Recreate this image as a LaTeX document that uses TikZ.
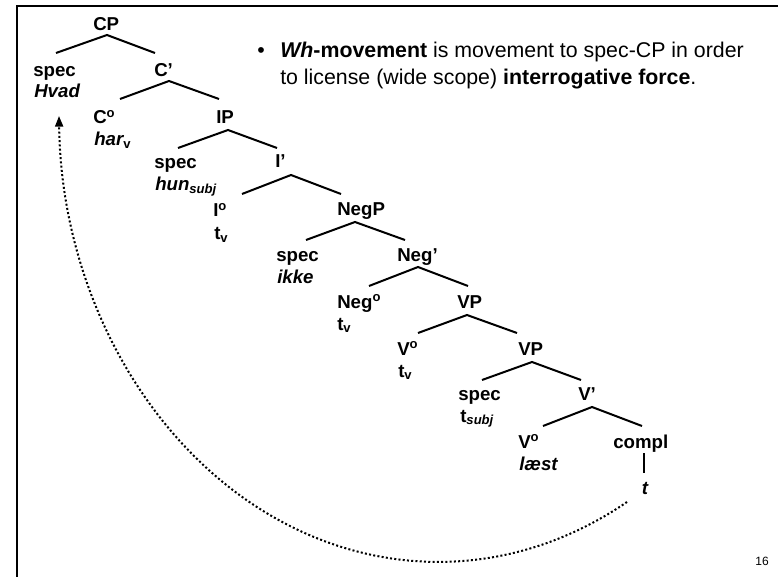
\documentclass[tikz,border=0pt]{standalone}
\usepackage{fontspec}
\setmainfont{Liberation Sans}
\usetikzlibrary{calc,arrows.meta}
\begin{document}
\begin{tikzpicture}[x=0.75pt,y=-0.75pt,
  lab/.style={anchor=base west,inner sep=0pt,font=\fontsize{14}{17}\selectfont\bfseries},
  branch/.style={line width=1.5pt},
  txt/.style={anchor=base west,inner sep=0pt,font=\fontsize{16}{20}\selectfont},
  move/.style={line width=1.5pt,dash pattern=on 1.5pt off 1.7pt,-{Triangle[length=8pt,width=6pt]}}]
\useasboundingbox (0,0) rectangle (778,577);
% frame
\draw[line width=1.5pt] (778,6) -- (17,6) -- (17,577);
% bullet text
\node[txt] (bul) at (257,58) {•};
\node[txt] (lineA) at (280,58) {\textbf{\textit{Wh}-movement} is movement to spec-CP in order};
\node[txt] (lineB) at (280,85) {to license (wide scope) \textbf{interrogative force}.};
% tree labels
\node[lab] (CP) at (93,31) {CP};
\node[lab] (specA) at (33,77) {spec};
\node[lab] (Hvad) at (34,98) {\itshape Hvad};
\node[lab] (Cbar) at (154,77) {C’};
\node[lab] (Chead) at (93,124) {C\textsuperscript{o}};
\node[lab] (har) at (94,146) {\itshape har\textsubscript{\upshape v}};
\node[lab] (IP) at (216,124) {IP};
\node[lab] (specB) at (154,169) {spec};
\node[lab] (hun) at (155,191) {\itshape hun\textsubscript{subj}};
\node[lab] (Ibar) at (275,168) {I’};
\node[lab] (Ihead) at (213,217) {I\textsuperscript{o}};
\node[lab] (tvA) at (214,240) {t\textsubscript{v}};
\node[lab] (NegP) at (337,216) {NegP};
\node[lab] (specC) at (276,262) {spec};
\node[lab] (ikke) at (277,284) {\itshape ikke};
\node[lab] (Negbar) at (397,262) {Neg’};
\node[lab] (Neghead) at (337,308) {Neg\textsuperscript{o}};
\node[lab] (tvB) at (337,330) {t\textsubscript{v}};
\node[lab] (VPa) at (457,308) {VP};
\node[lab] (VheadA) at (397,355) {V\textsuperscript{o}};
\node[lab] (tvC) at (398,377) {t\textsubscript{v}};
\node[lab] (VPb) at (518,355) {VP};
\node[lab] (specD) at (458,400) {spec};
\node[lab] (tsubj) at (460,422) {t\textsubscript{\itshape subj}};
\node[lab] (Vbar) at (578,400) {V’};
\node[lab] (VheadB) at (518,448) {V\textsuperscript{o}};
\node[lab] (laest) at (519,470) {\itshape læst};
\node[lab] (compl) at (613,448) {compl};
\node[lab,anchor=base] (trace) at (645,494) {\itshape t};
\node[anchor=center,inner sep=0pt,font=\fontsize{9}{10}\selectfont] (pagenum) at (762,561) {16};
% branches
\draw[branch] ($(specA.base west)+(23,-24)$) -- ($(CP.base west)+(14,4)$) -- ($(Cbar.base west)+(1,-24)$);
\draw[branch] ($(Chead.base west)+(27,-25)$) -- ($(Cbar.base west)+(15,4)$) -- ($(IP.base west)+(3,-25)$);
\draw[branch] ($(specB.base west)+(24,-21)$) -- ($(IP.base west)+(12,6)$) -- ($(Ibar.base west)+(2,-20)$);
\draw[branch] ($(Ihead.base west)+(29,-23)$) -- ($(Ibar.base west)+(16,7)$) -- ($(NegP.base west)+(4,-22)$);
\draw[branch] ($(specC.base west)+(30,-22)$) -- ($(NegP.base west)+(18,6)$) -- ($(Negbar.base west)+(8,-22)$);
\draw[branch] ($(Neghead.base west)+(32,-22)$) -- ($(Negbar.base west)+(21,5)$) -- ($(VPa.base west)+(11,-22)$);
\draw[branch] ($(VheadA.base west)+(21,-22)$) -- ($(VPa.base west)+(10,7)$) -- ($(VPb.base west)+(-1,-22)$);
\draw[branch] ($(specD.base west)+(24,-20)$) -- ($(VPb.base west)+(14,7)$) -- ($(Vbar.base west)+(3,-20)$);
\draw[branch] ($(VheadB.base west)+(25,-22)$) -- ($(Vbar.base west)+(14,7)$) -- ($(compl.base west)+(29,-22)$);
\draw[branch] ($(compl.base west)+(31,5)$) -- ($(trace.base)+(-1,-21)$);
% movement arrow
\coordinate (arcS) at (627,502);
\coordinate (arcM) at (248.5,501.4);
\coordinate (arcE) at (59,116);
\draw[move] (arcS) .. controls (510,582) and (366,582) .. (arcM) .. controls (133,422) and (61,276) .. (arcE);
\end{tikzpicture}
\end{document}
